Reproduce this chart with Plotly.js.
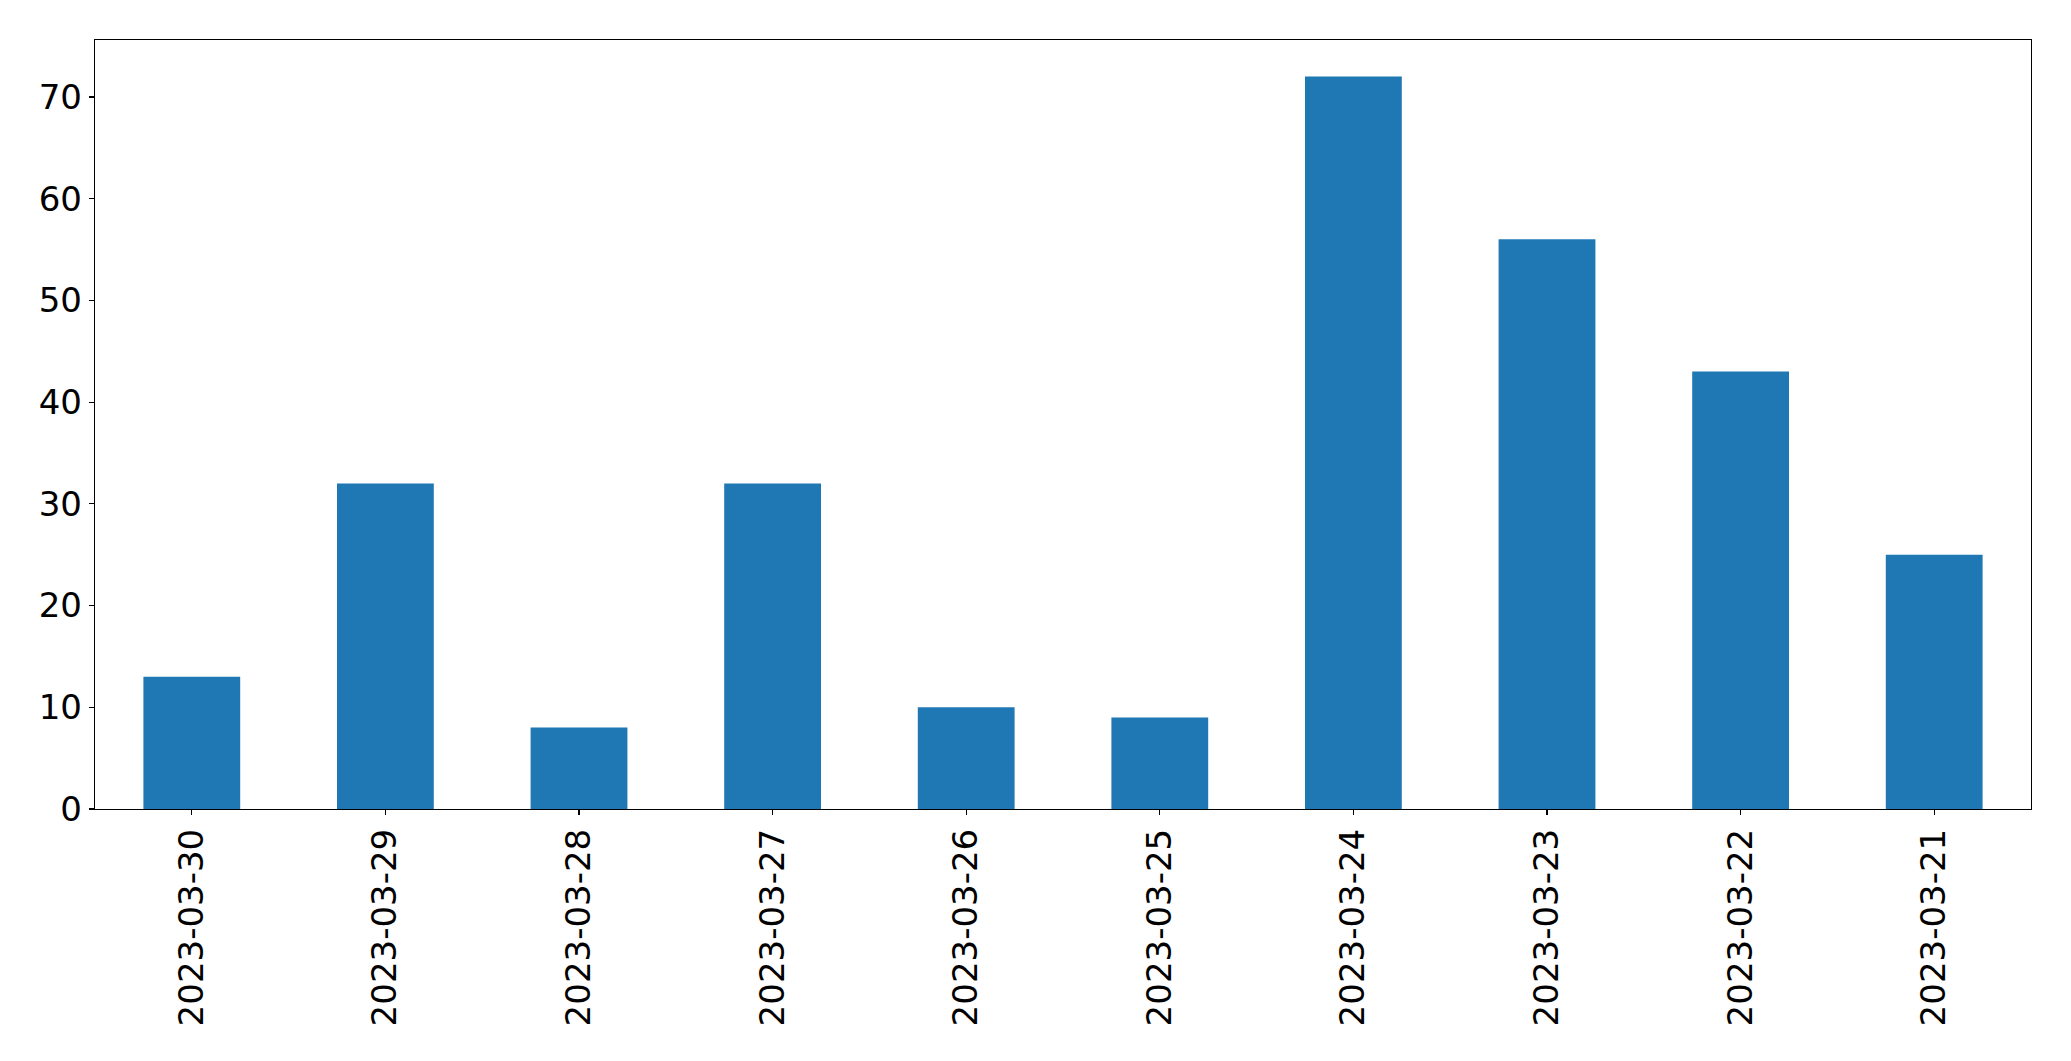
<!DOCTYPE html>
<html>
<head>
<meta charset="utf-8">
<script src="https://cdn.plot.ly/plotly-3.0.1.min.js"></script>
<style>html,body{margin:0;padding:0;background:#fff;}#chart{width:2071px;height:1061px;}</style>
</head>
<body>
<div id="chart"></div>
<script>
const dates = ["2023-03-30","2023-03-29","2023-03-28","2023-03-27","2023-03-26","2023-03-25","2023-03-24","2023-03-23","2023-03-22","2023-03-21"];
const counts = [13, 32, 8, 32, 10, 9, 72, 56, 43, 25];
const yTicks = [0, 10, 20, 30, 40, 50, 60, 70];

const font = {family: "DejaVu Sans, sans-serif", size: 34, color: "#000"};
Plotly.newPlot("chart", [{
  type: "bar",
  x: dates,
  y: counts,
  marker: {color: "#1f77b4", line: {width: 0}},
  hoverinfo: "x+y"
}], {
  width: 2071, height: 1061,
  margin: {l: 94.5, r: 39.5, t: 39.5, b: 252, pad: 0},
  paper_bgcolor: "#fff", plot_bgcolor: "#fff",
  bargap: 0.5,
  showlegend: false,
  font: font,
  xaxis: {
    type: "category",
    range: [-0.5, 9.5],
    showgrid: false, zeroline: false,
    showline: true, linecolor: "#000", linewidth: 1.2, mirror: true,
    ticks: "outside", ticklen: 5, tickwidth: 1.2, tickcolor: "#000",
    tickangle: -90, tickfont: font, automargin: false
  },
  yaxis: {
    range: [0, 75.6],
    tickvals: yTicks, ticktext: yTicks.map(String),
    showgrid: false, zeroline: false,
    showline: true, linecolor: "#000", linewidth: 1.2, mirror: true,
    ticks: "outside", ticklen: 5, tickwidth: 1.2, tickcolor: "#000",
    tickfont: font, automargin: false
  }
}, {staticPlot: true});
</script>
</body>
</html>
